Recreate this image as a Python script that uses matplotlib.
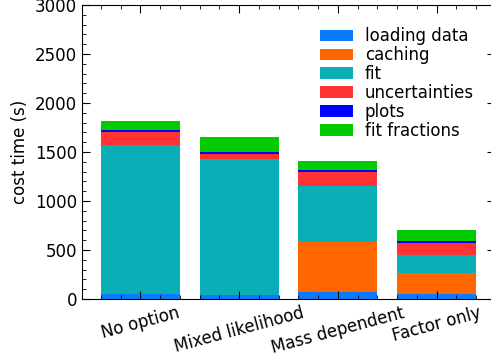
import matplotlib
matplotlib.use("Agg")
import matplotlib.pyplot as plt
import numpy as np
from matplotlib.ticker import MultipleLocator

categories = ["No option", "Mixed likelihood", "Mass dependent", "Factor only"]
labels = ["loading data", "caching", "fit", "uncertainties", "plots", "fit fractions"]
colors = ["#0a7bff", "#ff6600", "#0aaeb6", "#ff3333", "#0000ff", "#00cc00"]

loading_data = [55, 40, 75, 55]
caching = [0, 0, 510, 210]
fit = [1515, 1390, 570, 180]
uncertainties = [130, 50, 145, 130]
plots = [20, 20, 20, 20]
fit_fractions = [100, 155, 92, 112]

series = [loading_data, caching, fit, uncertainties, plots, fit_fractions]

plt.rcParams["font.size"] = 12

fig = plt.figure(figsize=(4.91, 3.6), dpi=100)
ax = fig.add_axes([82 / 491, 1 - 299 / 360, (495 - 82) / 491, 294 / 360])

x = np.arange(len(categories))
bottom = np.zeros(len(categories))
for vals, lab, col in zip(series, labels, colors):
    ax.bar(x, vals, width=0.8, bottom=bottom, color=col, label=lab)
    bottom += np.array(vals)

ax.set_ylim(0, 3000)
ax.set_xlim(-0.59, 3.59)
ax.set_xticks(x)
ax.set_xticklabels(categories, rotation=15, ha="center")
ax.set_ylabel("cost time (s)")
ax.yaxis.set_minor_locator(MultipleLocator(100))
ax.xaxis.set_minor_locator(MultipleLocator(0.2))
ax.tick_params(which="both", direction="in", top=True, right=True)
ax.tick_params(which="major", length=6)
ax.tick_params(which="minor", length=3)

ax.legend(frameon=False, loc="upper right", bbox_to_anchor=(0.985, 0.975),
          labelspacing=0.05, handlelength=2.0, handletextpad=0.7)

fig.savefig("out.png", dpi=100)
